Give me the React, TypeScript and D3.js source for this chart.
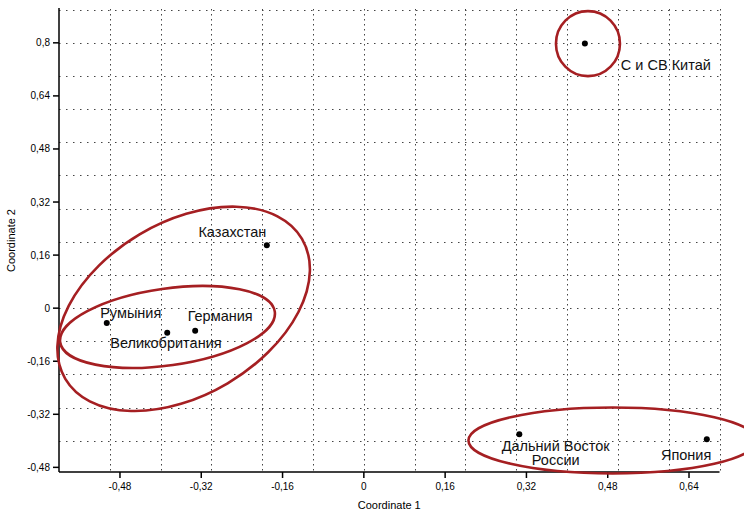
import React from "react";
import * as d3 from "d3";

// ---- data ----
const names = ["С и СВ Китай", "Казахстан", "Румыния", "Великобритания", "Германия", "Дальний Восток\nРоссии", "Япония"];
const coord1 = [0.435, -0.191, -0.506, -0.387, -0.332, 0.306, 0.675];
const coord2 = [0.798, 0.19, -0.045, -0.074, -0.068, -0.38, -0.395];
const xTicks = [-0.48, -0.32, -0.16, 0, 0.16, 0.32, 0.48, 0.64];
const yTicks = [-0.48, -0.32, -0.16, 0, 0.16, 0.32, 0.48, 0.64, 0.8];
const xGrid = [-0.5, -0.4, -0.3, -0.2, -0.1, 0, 0.1, 0.2, 0.3, 0.4, 0.5, 0.6, 0.7];
const yGrid = [-0.4, -0.3, -0.2, -0.1, 0, 0.1, 0.2, 0.3, 0.4, 0.5, 0.6, 0.7, 0.8, 0.9];
// group outlines (centre in data units)
const groupCx = [0.4411, -0.3547, -0.3865, 0.4893];
const groupCy = [0.7975, -0.002, -0.0567, -0.399];

// ---- layout (pixels) ----
const W = 744, H = 512;
const groupShape = [
  { rx: 32, ry: 32.5, rot: 0 },
  { rx: 137.5, ry: 86.5, rot: -30.6 },
  { rx: 108.4, ry: 38.4, rot: -8.1 },
  { rx: 144, ry: 33, rot: 0 },
];
const labelOffsets = [
  [81, 26.5],
  [-34.4, -8],
  [24, -5],
  [-1.3, 15.3],
  [25, -9.7],
  [36.4, 17.2],
  [-20.7, 20.7],
];

const fmt = (v: number) => String(+v.toFixed(2)).replace(".", ",");

export default function App() {
  const x = d3.scaleLinear().domain([-0.6, 0.7]).range([59, 719.5]);
  const y = d3.scaleLinear().domain([-0.494, 0.902]).range([472, 9]);
  const [x0, x1] = x.range();
  const [yb, yt] = y.range();
  const font = "'Liberation Sans', Arial, sans-serif";
  const red = "#a51f22";
  return (
    <svg width={W} height={H} style={{ position: "absolute", left: 0, top: 0, background: "#fff" }} fontFamily={font}>
      <rect x={0} y={0} width={W} height={H} fill="#fff" />
      {/* grid */}
      <g stroke="#444" strokeWidth={1}>
        {yGrid.map((v) => (
          <line key={"h" + v} x1={x0} x2={x1} y1={Math.round(y(v)) + 0.5} y2={Math.round(y(v)) + 0.5} strokeDasharray="1.5 5.5" />
        ))}
        {xGrid.map((v) => (
          <line key={"v" + v} x1={Math.round(x(v)) + 0.5} x2={Math.round(x(v)) + 0.5} y1={yt} y2={yb} strokeDasharray="1.5 3.5" />
        ))}
      </g>
      {/* axes */}
      <g stroke="#000" strokeWidth={1.5}>
        <line x1={x0} x2={x0} y1={yt - 1} y2={yb} />
        <line x1={x0} x2={x1} y1={yb} y2={yb} />
        {yTicks.map((v) => (
          <line key={"yt" + v} x1={x0 - 6} x2={x0} y1={y(v)} y2={y(v)} />
        ))}
        {xTicks.map((v) => (
          <line key={"xt" + v} x1={x(v)} x2={x(v)} y1={yb} y2={yb + 6} />
        ))}
      </g>
      <g fontSize={10} fill="#000">
        {yTicks.map((v) => (
          <text key={"yl" + v} x={x0 - 9} y={y(v)} dy="0.35em" textAnchor="end">{fmt(v)}</text>
        ))}
        {xTicks.map((v) => (
          <text key={"xl" + v} x={x(v)} y={490} textAnchor="middle">{fmt(v)}</text>
        ))}
      </g>
      <text x={(x0 + x1) / 2} y={509} fontSize={11} textAnchor="middle">Coordinate 1</text>
      <text transform={`translate(14.5, ${(yt + yb) / 2}) rotate(-90)`} fontSize={11} textAnchor="middle">Coordinate 2</text>
      {/* group outlines */}
      <g fill="none" stroke={red} strokeWidth={2.6}>
        {groupCx.map((cx, i) => (
          <ellipse key={"e" + i} cx={0} cy={0} rx={groupShape[i].rx} ry={groupShape[i].ry}
            transform={`translate(${x(cx)}, ${y(groupCy[i])}) rotate(${groupShape[i].rot})`} />
        ))}
      </g>
      {/* points */}
      {coord1.map((c, i) => (
        <circle key={"p" + i} cx={x(c)} cy={y(coord2[i])} r={3} fill="#000" />
      ))}
      <g fontSize={14.5} fill="#111" textAnchor="middle">
        {names.map((n, i) => (
          <text key={"l" + i} x={x(coord1[i]) + labelOffsets[i][0]} y={y(coord2[i]) + labelOffsets[i][1]}>
            {n.split("\n").map((line, j) => (
              <tspan key={j} x={x(coord1[i]) + labelOffsets[i][0]} dy={j === 0 ? 0 : 14}>{line}</tspan>
            ))}
          </text>
        ))}
      </g>
    </svg>
  );
}
